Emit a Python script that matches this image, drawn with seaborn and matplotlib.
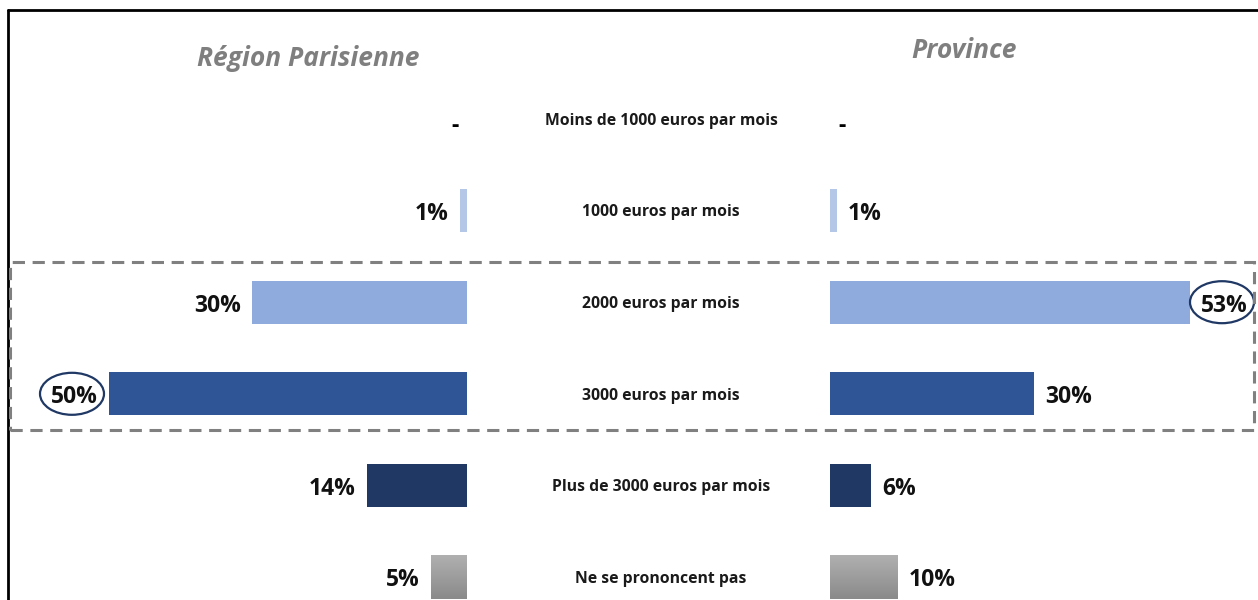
import matplotlib
matplotlib.use("Agg")
import matplotlib.pyplot as plt
import seaborn as sns
import pandas as pd
import numpy as np
from matplotlib.patches import Ellipse, Rectangle
from matplotlib.transforms import blended_transform_factory, IdentityTransform

categories = ["Moins de 1000 euros par mois", "1000 euros par mois", "2000 euros par mois",
              "3000 euros par mois", "Plus de 3000 euros par mois", "Ne se prononcent pas"]
paris = [0, 1, 30, 50, 14, 5]
province = [0, 1, 53, 30, 6, 10]
bar_colors = ["#B4C7E7", "#B4C7E7", "#8FAADC", "#2F5597", "#203864", "#A5A5A5"]
highlight_paris = 3
highlight_province = 2

sns.set_theme(style="white")
plt.rcParams['font.family'] = ['Open Sans', 'DejaVu Sans']

W, H = 1258, 600
fig = plt.figure(figsize=(W / 100, H / 100), dpi=100)
fig.patch.set_facecolor("white")

row0, step = 119, 91.6
ylo = (H - row0) / step
yhi = -row0 / step

ax_l = fig.add_axes([109 / W, 0, (467 - 109) / W, 1])
ax_r = fig.add_axes([830 / W, 0, (1190 - 830) / W, 1])

df = pd.DataFrame({"cat": categories, "paris": paris, "province": province})

sns.barplot(data=df, y="cat", x="paris", hue="cat", palette=bar_colors, legend=False,
            orient="h", ax=ax_l, width=0.47, saturation=1, linewidth=0)
sns.barplot(data=df, y="cat", x="province", hue="cat", palette=bar_colors, legend=False,
            orient="h", ax=ax_r, width=0.47, saturation=1, linewidth=0)

ax_l.set_xlim(50, 0)
ax_r.set_xlim(0, 53)
for ax in (ax_l, ax_r):
    ax.set_ylim(ylo, yhi)
    ax.axis("off")
    ax.patch.set_alpha(0)

gcmap = matplotlib.colors.LinearSegmentedColormap.from_list("g", ["#B0B0B0", "#8A8A8A"])
for ax in (ax_l, ax_r):
    xl = ax.get_xlim()
    for p in ax.patches:
        yc = p.get_y() + p.get_height() / 2
        if abs(yc - 5) < 0.01 and p.get_width() > 0:
            x0, x1 = sorted([0, p.get_width()])
            grad = np.linspace(0, 1, 100).reshape(-1, 1)
            ax.imshow(grad, extent=[x0, x1, p.get_y() + p.get_height(), p.get_y()],
                      cmap=gcmap, aspect="auto", zorder=3)
            p.set_visible(False)
    ax.set_xlim(xl)
    ax.set_ylim(ylo, yhi)

lab_fs = 16.5
for i, v in enumerate(paris):
    if v == 0:
        ax_l.annotate("-", (0, i), xytext=(-6, -5), textcoords="offset points",
                      ha="right", va="center", fontsize=lab_fs, fontweight="bold", color="black")
    else:
        ax_l.annotate(f"{v}%", (v, i), xytext=(-8, -2.5), textcoords="offset points",
                      ha="right", va="center", fontsize=lab_fs, fontweight="bold", color="#111111")
for i, v in enumerate(province):
    if v == 0:
        ax_r.annotate("-", (0, i), xytext=(6, -5), textcoords="offset points",
                      ha="left", va="center", fontsize=lab_fs, fontweight="bold", color="black")
    else:
        ax_r.annotate(f"{v}%", (v, i), xytext=(8, -2.5), textcoords="offset points",
                      ha="left", va="center", fontsize=lab_fs, fontweight="bold", color="#111111")

tr = blended_transform_factory(fig.transFigure, ax_l.transData)
for i, c in enumerate(categories):
    fig.text(661 / W, i + 0.02, c, transform=tr, ha="center", va="center",
             fontsize=11.3, fontweight="bold", color="#1a1a1a")

fig.text(308 / W, 1 - 58 / H, "Région Parisienne", ha="center", va="center",
         fontsize=19, fontweight="bold", fontstyle="italic", color="#7F7F7F")
fig.text(964 / W, 1 - 50 / H, "Province", ha="center", va="center",
         fontsize=19, fontweight="bold", fontstyle="italic", color="#7F7F7F")

rect = Rectangle((10 / W, 3.40), (1254 - 10) / W, -(3.40 - (2 - 0.44)), transform=tr,
                 fill=False, ec="#808080", lw=2.2, ls=(0, (4, 2.5)), zorder=5)
fig.add_artist(rect)

fig.canvas.draw()
cx, cy = ax_l.transData.transform((paris[highlight_paris], highlight_paris))
fig.add_artist(Ellipse((cx - 37, cy), 64, 42, transform=IdentityTransform(),
                       fill=False, ec="#1F3864", lw=1.6))
cx, cy = ax_r.transData.transform((province[highlight_province], highlight_province))
fig.add_artist(Ellipse((cx + 32, cy), 64, 42, transform=IdentityTransform(),
                       fill=False, ec="#1F3864", lw=1.6))

fig.add_artist(plt.Line2D([8 / W, 1], [1 - 10 / H, 1 - 10 / H], transform=fig.transFigure,
                          color="black", lw=2))
fig.add_artist(plt.Line2D([8 / W, 8 / W], [0, 1 - 10 / H], transform=fig.transFigure,
                          color="black", lw=2))

fig.savefig("out.png", dpi=100, facecolor="white")
